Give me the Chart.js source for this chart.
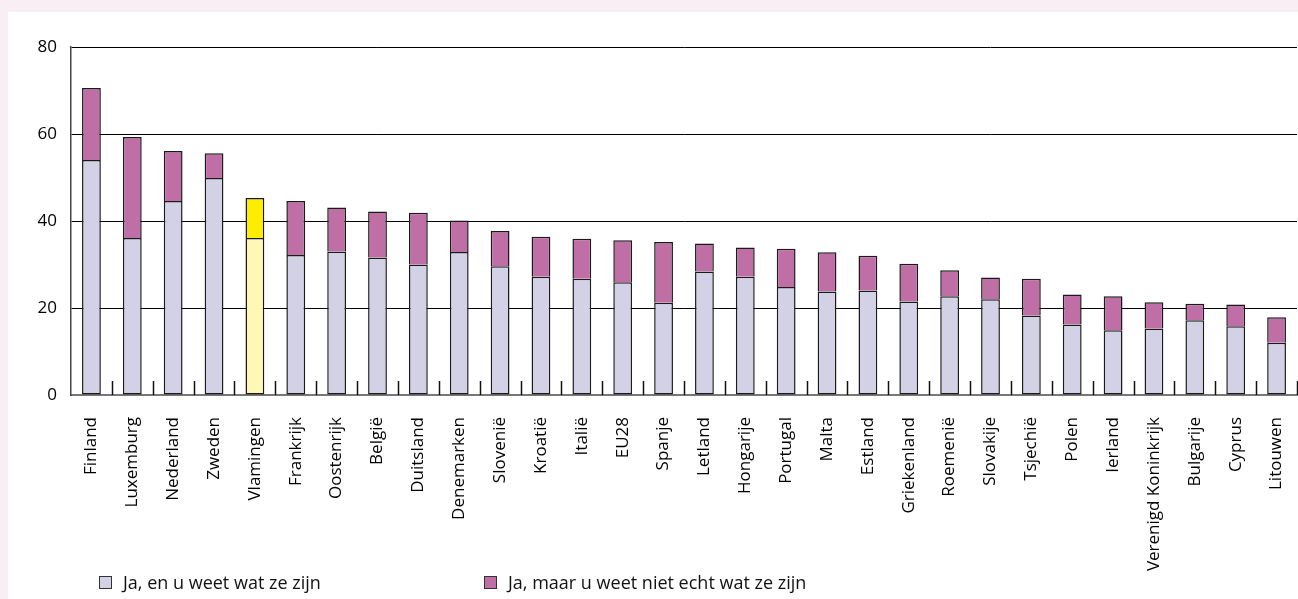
<!DOCTYPE html>
<html>
<head>
<meta charset="utf-8">
<script src="https://cdn.jsdelivr.net/npm/chart.js@4/dist/chart.umd.min.js"></script>
<style>
    body { margin: 0; background: #f9eef4; width: 1298px; height: 599px; overflow: hidden; font-family: 'Open Sans', sans-serif; }
    #panel { position: absolute; left: 8px; top: 12px; width: 1290px; height: 587px; background: #fff; }
    #wrap { position: absolute; left: 0; top: 0; width: 1290px; height: 587px; }
    .legend-item { position: absolute; top: 558px; font-size: 18px; color: #111; white-space: nowrap; }
    .legend-item span.box { display: inline-block; width: 11px; height: 11px; border: 1px solid #333; vertical-align: 0px; margin-right: 11px; }
</style>
</head>
<body>
<div id="panel">
    <div id="wrap"><canvas id="myChart"></canvas></div>
    <div class="legend-item" style="left: 91px;"><span class="box" style="background:#d3d1e6"></span>Ja, en u weet wat ze zijn</div>
    <div class="legend-item" style="left: 476px;"><span class="box" style="background:#bf6fa5"></span>Ja, maar u weet niet echt wat ze zijn</div>
</div>
<script>
const countries = ['Finland', 'Luxemburg', 'Nederland', 'Zweden', 'Vlamingen', 'Frankrijk', 'Oostenrijk', 'België',
    'Duitsland', 'Denemarken', 'Slovenië', 'Kroatië', 'Italië', 'EU28', 'Spanje', 'Letland', 'Hongarije', 'Portugal',
    'Malta', 'Estland', 'Griekenland', 'Roemenië', 'Slovakije', 'Tsjechië', 'Polen', 'Ierland', 'Verenigd Koninkrijk',
    'Bulgarije', 'Cyprus', 'Litouwen'];
const knows = [54.0, 36.1, 44.6, 49.9, 36.1, 32.2, 33.0, 31.6, 30.0, 32.9, 29.6, 27.2, 26.7, 25.9, 21.2, 28.4, 27.2, 24.8,
    23.8, 24.0, 21.5, 22.7, 22.0, 18.3, 16.2, 14.9, 15.3, 17.2, 15.8, 12.0];
const notReally = [16.6, 23.2, 11.5, 5.7, 9.2, 12.4, 10.1, 10.6, 11.9, 7.2, 8.1, 9.2, 9.2, 9.7, 14.0, 6.4, 6.7, 8.8,
    9.0, 8.0, 8.7, 6.0, 5.0, 8.4, 6.9, 7.8, 6.0, 3.8, 5.0, 5.9];
const yTicks = [0, 20, 40, 60, 80];
const seriesNames = ['Ja, en u weet wat ze zijn', 'Ja, maar u weet niet echt wat ze zijn'];

// Vlamingen gets the yellow highlight
const knowsColors = countries.map(c => c === 'Vlamingen' ? '#fff7b5' : '#d3d1e6');
const notColors = countries.map(c => c === 'Vlamingen' ? '#ffed00' : '#bf6fa5');

// short inside ticks between the categories
const tickMarks = {
    id: 'tickMarks',
    afterDraw(chart) {
        const x = chart.scales.x;
        const bottom = chart.chartArea.bottom;
        const ctx = chart.ctx;
        const step = x.getPixelForValue(1) - x.getPixelForValue(0);
        ctx.save();
        ctx.strokeStyle = '#111';
        ctx.lineWidth = 1.5;
        for (let i = 0; i < countries.length; i++) {
            const px = Math.round(x.getPixelForValue(i) + step / 2) + 0.5;
            ctx.beginPath();
            ctx.moveTo(px, bottom - 14);
            ctx.lineTo(px, bottom);
            ctx.stroke();
        }
        ctx.restore();
    }
};

Chart.defaults.font.family = "'Open Sans', sans-serif";
Chart.defaults.color = '#000';

const ctx = document.getElementById('myChart').getContext('2d');
const myChart = new Chart(ctx, {
    type: 'bar',
    data: {
        labels: countries,
        datasets: [{
            label: seriesNames[0],
            data: knows,
            backgroundColor: knowsColors,
            borderColor: '#1a1a1a',
            borderWidth: 1.5,
            borderSkipped: false,
            barPercentage: 0.46,
            categoryPercentage: 1,
        }, {
            label: seriesNames[1],
            data: notReally,
            backgroundColor: notColors,
            borderColor: '#1a1a1a',
            borderWidth: 1.5,
            borderSkipped: 'bottom',
            barPercentage: 0.46,
            categoryPercentage: 1,
        }],
    },
    options: {
        responsive: true,
        maintainAspectRatio: false,
        animation: false,
        layout: { padding: { top: 35, right: 1, left: 0, bottom: 0 } },
        plugins: {
            legend: { display: false },
            tooltip: { enabled: false },
        },
        scales: {
            x: {
                stacked: true,
                grid: { display: false, drawTicks: false },
                border: { color: '#777', width: 2 },
                ticks: {
                    autoSkip: false,
                    maxRotation: 90,
                    minRotation: 90,
                    padding: 22,
                    font: { size: 17 },
                },
                afterFit: function (s) {
                    s.height = 204;
                    s.paddingLeft = 0;
                    s.paddingRight = 0;
                },
            },
            y: {
                stacked: true,
                min: 0,
                max: 80,
                afterBuildTicks: function (s) {
                    s.ticks = yTicks.map(v => ({ value: v }));
                },
                grid: { color: '#000', lineWidth: 1, drawTicks: false },
                border: { color: '#444', width: 1.5 },
                ticks: {
                    padding: 14,
                    font: { size: 17 },
                },
                afterFit: function (s) {
                    s.width = 63;
                },
            },
        },
    },
    plugins: [tickMarks],
});
</script>
</body>
</html>
